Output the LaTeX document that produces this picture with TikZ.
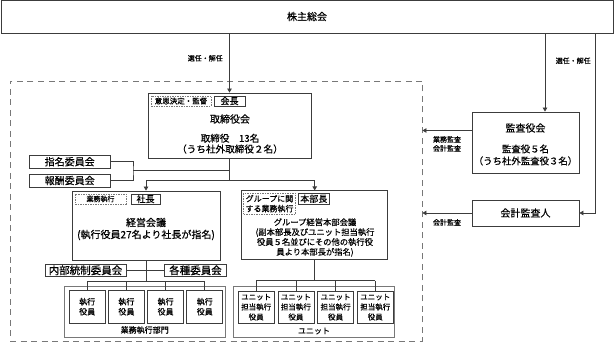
\documentclass[tikz,border=0pt]{standalone}
\usepackage{fontspec}
\setmainfont{Noto Sans CJK JP}[FakeBold=0.5]
\usetikzlibrary{positioning, calc, arrows.meta}
\definecolor{cL}{RGB}{60,60,60}
\definecolor{cD}{RGB}{120,120,120}

\begin{document}
\begin{tikzpicture}[x=1pt, y=-1pt, line width=0.8pt,
    box/.style={draw=cL, inner sep=0pt, align=center},
    outer/.style={draw=cD, inner sep=0pt},
    frame/.style={draw=cD, dash pattern=on 6pt off 4.5pt, inner sep=0pt},
    tag/.style={draw=cD, dash pattern=on 1.5pt off 1pt, inner sep=0pt, align=center},
    txt/.style={inner sep=0pt, align=center},
    ln/.style={draw=cL},
    arr/.style={-{Triangle[length=4pt, width=4.5pt]}},
    big/.style={font=\fontsize{10}{12}\selectfont},
    bigger/.style={font=\fontsize{10.5}{12}\selectfont},
    mid/.style={font=\fontsize{9}{10}\selectfont},
    sub/.style={font=\fontsize{8}{10}\selectfont},
    sml/.style={font=\fontsize{7}{9}\selectfont, align=center}]
    \useasboundingbox (0,0) rectangle (614,344);

    \node[box, big, minimum width=612pt, minimum height=33pt] (meeting) at (307,16.5) {株主総会};
    \node[frame, minimum width=412pt, minimum height=260pt] (corp) at (216,211) {};

    \node[box, minimum width=163pt, minimum height=65pt] (board) at (229.5,125.5) {};
    \node[tag, font=\fontsize{7.5}{9}\selectfont, minimum width=60pt, minimum height=10pt] (boardtag) at (181,101) {意思決定・監督};
    \node[box, mid, minimum width=31pt, minimum height=10pt] (chair) at (229.5,101) {会長};
    \node[txt, big] (boardname) at (230,119) {取締役会};
    \node[txt, font=\fontsize{9.6}{10.8}\selectfont] (boardnum) at (230,143.7) {取締役　13名\\（うち社外取締役２名）};

    \node[box, minimum width=107pt, minimum height=61pt] (audit) at (525.5,142.5) {};
    \node[txt, big] (auditname) at (525.5,128) {監査役会};
    \node[txt, font=\fontsize{9.4}{12}\selectfont] (auditnum) at (525.5,155) {監査役５名\\（うち社外監査役３名）};
    \node[box, big, minimum width=107pt, minimum height=26pt] (acct) at (525.5,213) {会計監査人};

    \coordinate (auditin) at ([xshift=19.5pt]audit.north);
    \coordinate (acctrt) at ([xshift=16pt]acct.east);
    \coordinate (auditout) at ([yshift=12pt]audit.west);
    \draw[ln, arr] (meeting.south -| board.north) -- (board.north) node[pos=0.42, left=3pt, sml] {選任・解任};
    \draw[ln, arr] (meeting.south -| auditin) -- (auditin) node[pos=0.35, right=7pt, sml] {選任・解任};
    \draw[ln, arr] (meeting.south -| acctrt) |- (acct.east);
    \draw[ln, arr] (auditout) -- (auditout -| corp.east) node[midway, below=2pt, sml] {業務監査\\会計監査};
    \draw[ln, arr] (acct.west) -- (acct.west -| corp.east) node[midway, below=2.5pt, sml] {会計監査};

    \node[box, big, minimum width=81pt, minimum height=13pt] (nominate) at (69.7,161.7) {指名委員会};
    \node[box, big, minimum width=81pt, minimum height=13pt] (reward) [below=5pt of nominate] {報酬委員会};
    \coordinate (cjoin) at (133,170.5);
    \coordinate (split) at ([yshift=-22.5pt]board.south);
    \draw[ln] (nominate.east) -| (cjoin) |- (reward.east);
    \draw[ln] (cjoin) -- (cjoin -| board.south);
    \draw[ln] (board.south) -- (split);

    \node[box, minimum width=148pt, minimum height=69pt] (mgmt) at (146,225.5) {};
    \node[tag, sml, minimum width=51pt, minimum height=10pt] (mgmttag) at (100.5,199) {業務執行};
    \node[box, mid, minimum width=29pt, minimum height=10pt] (president) at (145.5,199) {社長};
    \node[txt, big] (mgmtname) at (146,229) {経営会議\\(執行役員27名より社長が指名)};

    \node[box, minimum width=146pt, minimum height=69pt] (group) at (314.7,225.3) {};
    \node[tag, sub, minimum width=52pt, minimum height=21pt] (grouptag) at (269.5,203.7) {グループに関\\する業務執行};
    \node[box, mid, minimum width=31pt, minimum height=11pt] (chief) at (313.8,198.7) {本部長};
    \node[txt, font=\fontsize{8.3}{9.9}\selectfont] (groupname) at (315,237.5) {グループ経営本部会議\\(副本部長及びユニット担当執行\\役員５名並びにその他の執行役\\員より本部長が指名)};

    \draw[ln, arr] (split) -| (mgmt.north);
    \draw[ln, arr] (split) -| (group.north);

    \node[box, bigger, minimum width=81pt, minimum height=12pt] (control) at (85.5,270.3) {内部統制委員会};
    \node[box, bigger, minimum width=62pt, minimum height=12pt] (various) at (195.5,270.3) {各種委員会};
    \draw[ln] (control.east) -- (various.west);

    \node[outer, minimum width=161pt, minimum height=51pt] (dept) at (144.7,311.5) {};
    \node[box, sub, minimum width=36pt, minimum height=33pt] (e1) at (87.2,306.7) {執行\\役員};
    \node[box, sub, minimum width=36pt, minimum height=33pt] (e2) [right=2.4pt of e1] {執行\\役員};
    \node[box, sub, minimum width=36pt, minimum height=33pt] (e3) [right=2.4pt of e2] {執行\\役員};
    \node[box, sub, minimum width=36pt, minimum height=33pt] (e4) [right=2.4pt of e3] {執行\\役員};
    \node[txt, sub] (deptname) at (144.7,330) {業務執行部門};

    \node[outer, minimum width=161pt, minimum height=51pt] (unit) at (314,311.5) {};
    \node[box, font=\fontsize{7.5}{10}\selectfont, minimum width=36pt, minimum height=32pt] (u1) at (256.2,307.2) {ユニット\\担当執行\\役員};
    \node[box, font=\fontsize{7.5}{10}\selectfont, minimum width=36pt, minimum height=32pt] (u2) [right=2.9pt of u1] {ユニット\\担当執行\\役員};
    \node[box, font=\fontsize{7.5}{10}\selectfont, minimum width=36pt, minimum height=32pt] (u3) [right=2.9pt of u2] {ユニット\\担当執行\\役員};
    \node[box, font=\fontsize{7.5}{10}\selectfont, minimum width=36pt, minimum height=32pt] (u4) [right=2.9pt of u3] {ユニット\\担当執行\\役員};
    \node[txt, sub] (unitname) at (314,331) {ユニット};

    \coordinate (ebus) at ([yshift=-20.7pt]mgmt.south);
    \coordinate (ubus) at ([yshift=-20.7pt]group.south);
    \draw[ln] (mgmt.south) -- (ebus);
    \draw[ln] (group.south) -- (ubus);
    \draw[ln] (ebus -| e1.north) -- (ebus -| e4.north);
    \draw[ln] (ubus -| u1.north) -- (ubus -| u4.north);
    \foreach \i in {1,...,4} {
        \draw[ln] (ebus -| e\i.north) -- (e\i.north);
        \draw[ln] (ubus -| u\i.north) -- (u\i.north);
    } % bus drops cross the outer frames
\end{tikzpicture}
\end{document}
